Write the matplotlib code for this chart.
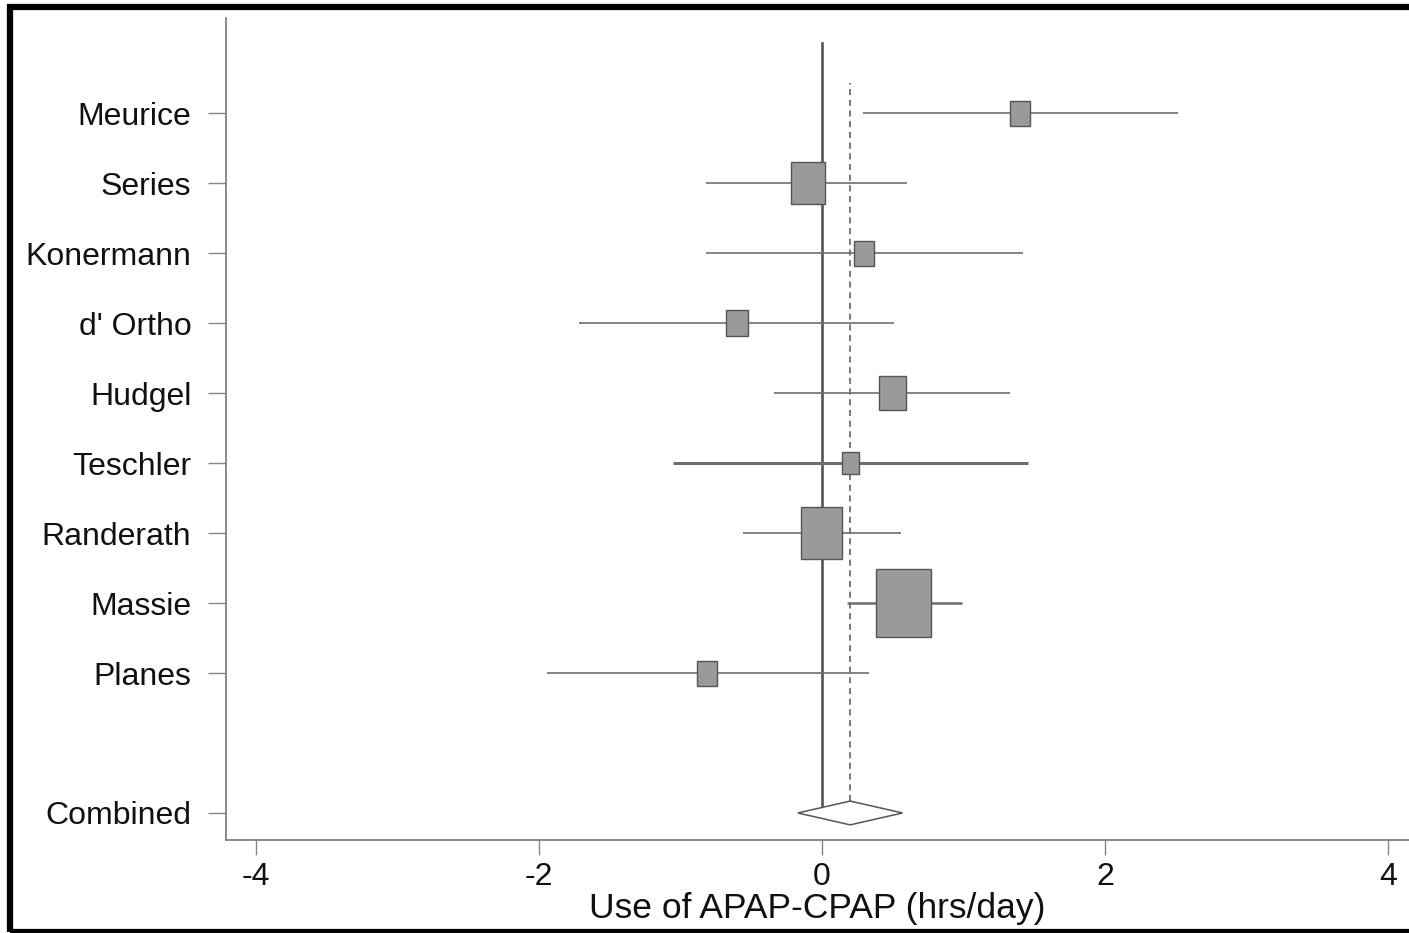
import numpy as np
import matplotlib
matplotlib.use("Agg")
import matplotlib.pyplot as plt
from matplotlib.patches import Rectangle, Polygon

plt.rcParams["font.family"] = ["Liberation Sans", "DejaVu Sans"]

# 연구별 효과 (APAP - CPAP, hrs/day)
studies = ["Meurice", "Series", "Konermann", "d' Ortho", "Hudgel",
           "Teschler", "Randerath", "Massie", "Planes"]
estimate = [1.40, -0.10, 0.30, -0.60, 0.50, 0.20, 0.00, 0.58, -0.81]
ci_low = [0.29, -0.82, -0.82, -1.72, -0.34, -1.05, -0.56, 0.18, -1.94]
ci_high = [2.52, 0.60, 1.42, 0.51, 1.33, 1.46, 0.56, 0.99, 0.33]
weight = [4.7, 13.6, 4.7, 5.2, 8.6, 3.4, 19.7, 35.5, 4.7]

combined_label = "Combined"
combined_est = 0.20
combined_low = -0.17
combined_high = 0.57

# 스타일
box_face = "#9a9a9a"
box_edge = "#555555"
line_col = "#6e6e6e"
ci_lw = {"Teschler": 2.2, "Massie": 1.8}

fig = plt.figure(figsize=(14.09, 9.33), dpi=100)
ax = fig.add_axes([0.1604, 0.0997, 0.8396, 0.881])

n = len(studies)
ypos = np.arange(n + 1, 1, -1)  # 10 .. 2, combined at 0

for name, y, est, lo, hi, w in zip(studies, ypos, estimate, ci_low, ci_high, weight):
    ax.plot([lo, hi], [y, y], color=line_col, lw=ci_lw.get(name, 1.2),
            solid_capstyle="butt", zorder=2)
    hw = 0.326 * np.sqrt(w / 100)
    hh = hw * (141.5 / 70) * 1.25
    ax.add_patch(Rectangle((est - hw, y - hh), 2 * hw, 2 * hh,
                           facecolor=box_face, edgecolor=box_edge,
                           lw=1.0, zorder=3))

# 기준선 (0) 과 전체 효과 (점선)
ax.plot([0, 0], [0, 11], color="#555555", lw=1.9, zorder=1)
ax.plot([combined_est, combined_est], [0.17, 10.43], color="#555555",
        lw=1.1, ls=(0, (4, 3)), zorder=1)

# 결합 추정치 다이아몬드
dh = 0.17
ax.add_patch(Polygon([[combined_low, 0], [combined_est, dh],
                      [combined_high, 0], [combined_est, -dh]],
                     closed=True, facecolor="white", edgecolor="#555555",
                     lw=1.1, zorder=4))

ax.set_xlim(-4.212, 4.15)
ax.set_ylim(-0.386, 11.36)
ax.set_xticks([-4, -2, 0, 2, 4])
ax.set_xticklabels(["-4", "-2", "0", "2", "4"], fontsize=23, color="#111111")
ax.set_yticks(list(ypos) + [0])
ax.set_yticklabels(studies + [combined_label], fontsize=23, color="#111111")
ax.tick_params(axis="y", length=13, width=1.0, color="#888888", pad=12)
ax.tick_params(axis="x", length=11, width=1.0, color="#888888", pad=5)
ax.set_xlabel("Use of APAP-CPAP (hrs/day)", fontsize=25.5, color="#111111",
              labelpad=0)

for side in ["top", "right"]:
    ax.spines[side].set_visible(False)
for side in ["left", "bottom"]:
    ax.spines[side].set_color("#777777")
    ax.spines[side].set_linewidth(1.2)

# 그림 테두리
fig.add_artist(Rectangle((0.0071, 0.0016), 1.2, 0.9904, transform=fig.transFigure,
                         fill=False, edgecolor="black", lw=4.5, clip_on=False))

fig.savefig("out.png", dpi=100)
